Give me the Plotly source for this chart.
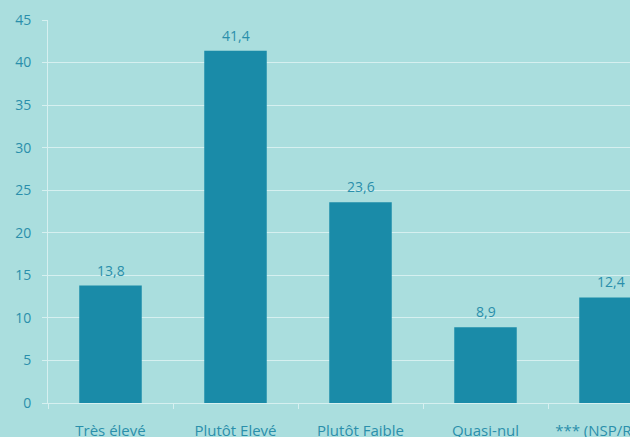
import plotly.graph_objects as go

categories = ["Très élevé", "Plutôt Elevé", "Plutôt Faible", "Quasi-nul", "*** (NSP/Refus)"]
values = [13.8, 41.4, 23.6, 8.9, 12.4]
labels = ["13,8", "41,4", "23,6", "8,9", "12,4"]
y_ticks = [0, 5, 10, 15, 20, 25, 30, 35, 40, 45]

BG = "#aadede"
BAR = "#1a8ba8"
TXT = "#2a8fab"
GRID = "#d6f0f0"
FONT = "Open Sans, Noto Sans, sans-serif"

fig = go.Figure(go.Bar(
    x=categories, y=values, width=0.5,
    marker=dict(color=BAR, line=dict(width=0)),
    hoverinfo="skip",
))

for c, v, t in zip(categories, values, labels):
    fig.add_annotation(
        x=c, y=v, text=t, showarrow=False, yanchor="bottom", yshift=4,
        font=dict(color=TXT, size=14, family=FONT),
    )

fig.update_layout(
    width=630, height=437,
    margin=dict(l=48, r=0, t=20, b=34, autoexpand=False),
    paper_bgcolor=BG, plot_bgcolor=BG,
    showlegend=False,
    font=dict(family=FONT, color=TXT, size=14),
    bargap=0.5,
)
fig.update_xaxes(
    range=[-0.5, 4.156], showgrid=False, automargin=False,
    showline=True, linecolor=GRID, linewidth=1,
    ticks="outside", tickson="boundaries", ticklen=5, tickcolor=GRID,
    tickfont=dict(size=15, color=TXT, family=FONT),
    ticklabelstandoff=14,
)
fig.update_yaxes(
    range=[0, 45], tickvals=y_ticks, automargin=False,
    showgrid=True, gridcolor=GRID, gridwidth=1,
    showline=True, linecolor=GRID, linewidth=1,
    ticks="outside", ticklen=5, tickcolor=GRID,
    tickfont=dict(size=14, color=TXT, family=FONT),
    ticklabelstandoff=8, zeroline=False,
)

fig.write_html(
    "out.html",
    config={"displayModeBar": False},
    post_script="document.body.style.margin='0';document.body.style.overflow='hidden';document.body.style.background='%s';" % BG,
)
